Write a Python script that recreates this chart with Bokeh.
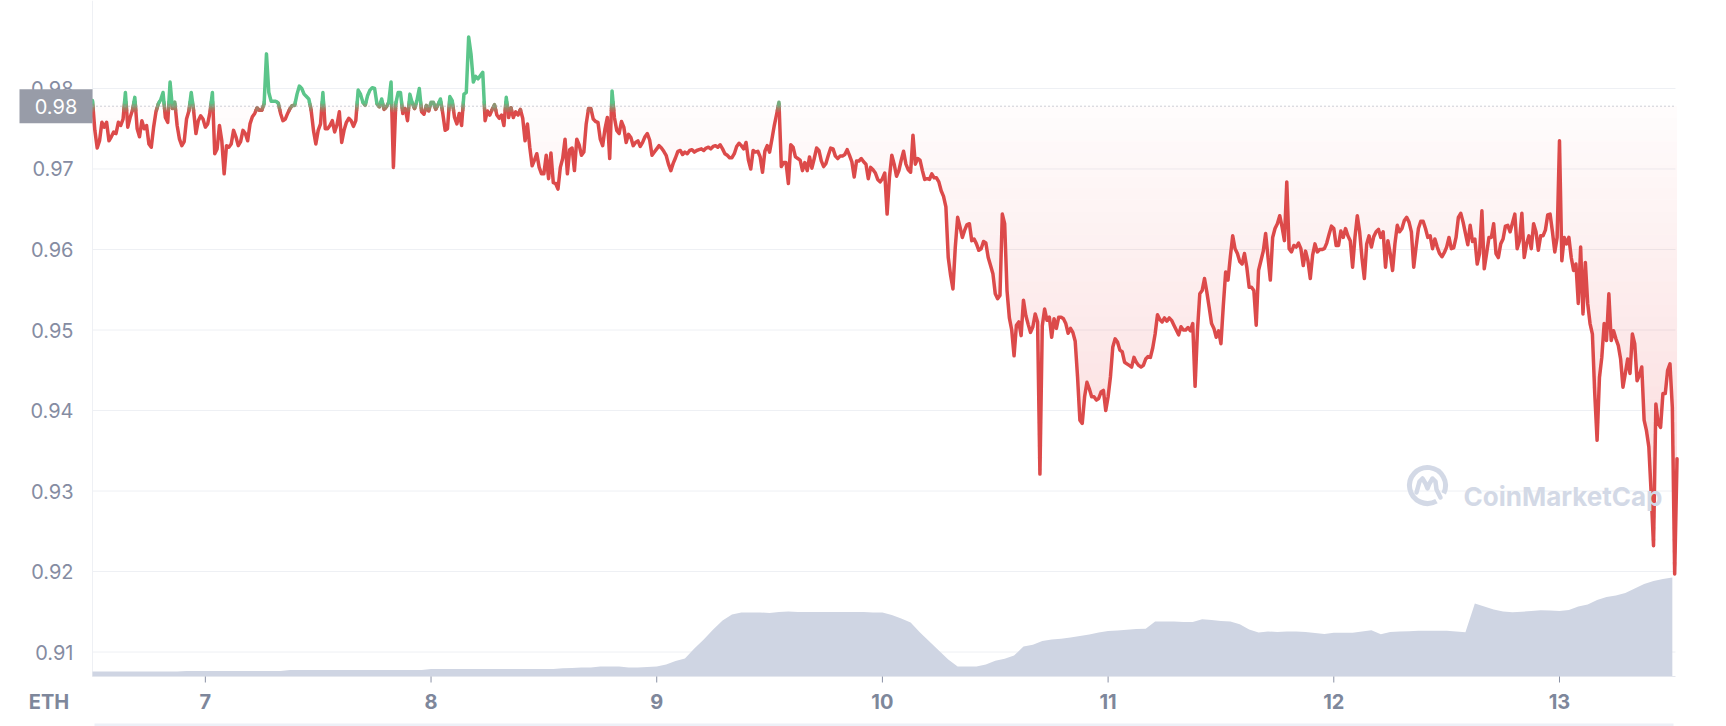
import numpy as np
from bokeh.plotting import figure
from bokeh.models import Range1d
from bokeh.core.properties import value
from bokeh.embed import file_html
from bokeh.resources import INLINE

# ---------------------------------------------------------------- data
START_DAY = 6.5          # day of month at the first sample
END_DAY = 13.514         # right edge of the chart
PRICE_STEP = 1 / 96      # 15-minute samples
VOLUME_STEP = 1 / 24     # hourly samples
REF_PRICE = 0.9778       # price at the start of the period

price = [
    0.9785, 0.9748, 0.9726, 0.9735, 0.9758, 0.9752, 0.9758, 0.9735, 0.9740, 0.9746,
    0.9744, 0.9758, 0.9754, 0.9762, 0.9795, 0.9752, 0.9764, 0.9773, 0.9789, 0.9750,
    0.9740, 0.9760, 0.9750, 0.9754, 0.9731, 0.9727, 0.9752, 0.9771, 0.9781, 0.9786,
    0.9795, 0.9764, 0.9758, 0.9808, 0.9775, 0.9783, 0.9754, 0.9737, 0.9729, 0.9734,
    0.9762, 0.9772, 0.9795, 0.9773, 0.9744, 0.9760, 0.9766, 0.9762, 0.9752, 0.9756,
    0.9771, 0.9795, 0.9719, 0.9725, 0.9754, 0.9735, 0.9694, 0.9729, 0.9727, 0.9731,
    0.9748, 0.9740, 0.9729, 0.9734, 0.9748, 0.9744, 0.9735, 0.9756, 0.9765, 0.9769,
    0.9776, 0.9773, 0.9773, 0.9781, 0.9843, 0.9795, 0.9784, 0.9784, 0.9784, 0.9782,
    0.9769, 0.9760, 0.9762, 0.9769, 0.9775, 0.9779, 0.9779, 0.9793, 0.9803, 0.9800,
    0.9793, 0.9790, 0.9787, 0.9773, 0.9748, 0.9731, 0.9748, 0.9756, 0.9795, 0.9750,
    0.9750, 0.9754, 0.9760, 0.9746, 0.9755, 0.9771, 0.9733, 0.9748, 0.9758, 0.9763,
    0.9760, 0.9753, 0.9760, 0.9798, 0.9793, 0.9783, 0.9779, 0.9791, 0.9798, 0.9801,
    0.9800, 0.9781, 0.9777, 0.9787, 0.9774, 0.9777, 0.9783, 0.9808, 0.9702, 0.9781,
    0.9795, 0.9795, 0.9769, 0.9775, 0.9760, 0.9793, 0.9782, 0.9775, 0.9785, 0.9800,
    0.9771, 0.9768, 0.9779, 0.9772, 0.9783, 0.9783, 0.9774, 0.9780, 0.9787, 0.9769,
    0.9748, 0.9750, 0.9790, 0.9785, 0.9764, 0.9756, 0.9769, 0.9754, 0.9793, 0.9795,
    0.9864, 0.9843, 0.9808, 0.9815, 0.9812, 0.9816, 0.9820, 0.9760, 0.9772, 0.9767,
    0.9774, 0.9780, 0.9767, 0.9763, 0.9767, 0.9754, 0.9789, 0.9764, 0.9776, 0.9764,
    0.9771, 0.9767, 0.9774, 0.9763, 0.9735, 0.9756, 0.9727, 0.9704, 0.9711, 0.9719,
    0.9702, 0.9694, 0.9694, 0.9717, 0.9688, 0.9720, 0.9683, 0.9682, 0.9675, 0.9702,
    0.9713, 0.9737, 0.9694, 0.9724, 0.9726, 0.9698, 0.9737, 0.9730, 0.9717, 0.9721,
    0.9756, 0.9775, 0.9775, 0.9762, 0.9759, 0.9758, 0.9737, 0.9729, 0.9750, 0.9764,
    0.9713, 0.9797, 0.9764, 0.9748, 0.9744, 0.9759, 0.9752, 0.9733, 0.9743, 0.9739,
    0.9729, 0.9733, 0.9735, 0.9728, 0.9733, 0.9740, 0.9744, 0.9736, 0.9717, 0.9721,
    0.9725, 0.9729, 0.9726, 0.9722, 0.9717, 0.9706, 0.9698, 0.9707, 0.9714, 0.9722,
    0.9723, 0.9718, 0.9721, 0.9719, 0.9723, 0.9724, 0.9721, 0.9723, 0.9724, 0.9725,
    0.9723, 0.9726, 0.9727, 0.9725, 0.9728, 0.9729, 0.9727, 0.9730, 0.9725, 0.9719,
    0.9717, 0.9714, 0.9714, 0.9719, 0.9728, 0.9732, 0.9729, 0.9725, 0.9733, 0.9711,
    0.9700, 0.9723, 0.9721, 0.9722, 0.9715, 0.9696, 0.9722, 0.9729, 0.9721, 0.9737,
    0.9754, 0.9768, 0.9783, 0.9703, 0.9708, 0.9708, 0.9682, 0.9730, 0.9727, 0.9715,
    0.9713, 0.9711, 0.9698, 0.9708, 0.9698, 0.9715, 0.9701, 0.9713, 0.9726, 0.9723,
    0.9710, 0.9703, 0.9707, 0.9717, 0.9726, 0.9725, 0.9716, 0.9713, 0.9716, 0.9716,
    0.9718, 0.9724, 0.9717, 0.9709, 0.9690, 0.9710, 0.9710, 0.9713, 0.9709, 0.9706,
    0.9688, 0.9702, 0.9699, 0.9695, 0.9687, 0.9684, 0.9688, 0.9695, 0.9644, 0.9690,
    0.9717, 0.9706, 0.9691, 0.9698, 0.9711, 0.9722, 0.9706, 0.9699, 0.9696, 0.9742,
    0.9706, 0.9713, 0.9711, 0.9698, 0.9687, 0.9688, 0.9687, 0.9694, 0.9689, 0.9689,
    0.9684, 0.9673, 0.9666, 0.9653, 0.9590, 0.9568, 0.9551, 0.9603, 0.9640, 0.9628,
    0.9615, 0.9624, 0.9631, 0.9632, 0.9611, 0.9613, 0.9607, 0.9599, 0.9601, 0.9610,
    0.9608, 0.9590, 0.9580, 0.9570, 0.9545, 0.9539, 0.9543, 0.9644, 0.9632, 0.9549,
    0.9515, 0.9500, 0.9468, 0.9506, 0.9510, 0.9493, 0.9537, 0.9518, 0.9507, 0.9497,
    0.9504, 0.9520, 0.9510, 0.9321, 0.9505, 0.9526, 0.9512, 0.9516, 0.9491, 0.9514,
    0.9502, 0.9516, 0.9516, 0.9514, 0.9508, 0.9496, 0.9502, 0.9497, 0.9486, 0.9442,
    0.9388, 0.9384, 0.9417, 0.9435, 0.9427, 0.9417, 0.9417, 0.9413, 0.9415, 0.9423,
    0.9425, 0.9400, 0.9417, 0.9442, 0.9479, 0.9489, 0.9485, 0.9475, 0.9473, 0.9460,
    0.9458, 0.9456, 0.9454, 0.9466, 0.9460, 0.9456, 0.9454, 0.9456, 0.9464, 0.9467,
    0.9466, 0.9478, 0.9495, 0.9519, 0.9513, 0.9510, 0.9515, 0.9511, 0.9515, 0.9512,
    0.9506, 0.9500, 0.9494, 0.9504, 0.9500, 0.9500, 0.9503, 0.9499, 0.9508, 0.9430,
    0.9499, 0.9545, 0.9549, 0.9564, 0.9547, 0.9528, 0.9508, 0.9502, 0.9491, 0.9499,
    0.9483, 0.9530, 0.9572, 0.9562, 0.9591, 0.9617, 0.9601, 0.9595, 0.9585, 0.9582,
    0.9595, 0.9578, 0.9553, 0.9553, 0.9549, 0.9506, 0.9574, 0.9586, 0.9598, 0.9620,
    0.9591, 0.9562, 0.9615, 0.9626, 0.9632, 0.9642, 0.9628, 0.9611, 0.9684, 0.9601,
    0.9597, 0.9605, 0.9603, 0.9608, 0.9601, 0.9580, 0.9598, 0.9586, 0.9564, 0.9593,
    0.9607, 0.9597, 0.9600, 0.9600, 0.9601, 0.9608, 0.9619, 0.9629, 0.9626, 0.9605,
    0.9605, 0.9623, 0.9615, 0.9626, 0.9617, 0.9611, 0.9578, 0.9615, 0.9642, 0.9622,
    0.9589, 0.9564, 0.9607, 0.9617, 0.9603, 0.9616, 0.9622, 0.9625, 0.9615, 0.9622,
    0.9578, 0.9611, 0.9595, 0.9574, 0.9607, 0.9630, 0.9622, 0.9626, 0.9636, 0.9640,
    0.9634, 0.9622, 0.9578, 0.9603, 0.9626, 0.9635, 0.9635, 0.9626, 0.9615, 0.9617,
    0.9601, 0.9613, 0.9603, 0.9595, 0.9591, 0.9596, 0.9603, 0.9615, 0.9601, 0.9602,
    0.9615, 0.9640, 0.9645, 0.9634, 0.9620, 0.9606, 0.9630, 0.9610, 0.9613, 0.9582,
    0.9595, 0.9648, 0.9576, 0.9595, 0.9615, 0.9615, 0.9632, 0.9595, 0.9590, 0.9607,
    0.9613, 0.9629, 0.9630, 0.9622, 0.9633, 0.9644, 0.9601, 0.9611, 0.9645, 0.9590,
    0.9607, 0.9617, 0.9601, 0.9632, 0.9622, 0.9599, 0.9617, 0.9617, 0.9624, 0.9643,
    0.9644, 0.9622, 0.9597, 0.9615, 0.9735, 0.9586, 0.9615, 0.9607, 0.9615, 0.9590,
    0.9574, 0.9582, 0.9533, 0.9603, 0.9520, 0.9584, 0.9533, 0.9508, 0.9495, 0.9421,
    0.9363, 0.9441, 0.9466, 0.9508, 0.9487, 0.9545, 0.9487, 0.9499, 0.9489, 0.9481,
    0.9464, 0.9429, 0.9446, 0.9464, 0.9446, 0.9495, 0.9483, 0.9437, 0.9444, 0.9454,
    0.9388, 0.9375, 0.9355, 0.9297, 0.9232, 0.9408, 0.9384, 0.9379, 0.9421, 0.9421,
    0.9450, 0.9458, 0.9404, 0.9197, 0.9340,
]

# traded volume, millions USD, hourly
volume_m = [
    2.5, 2.5, 2.5, 2.5, 2.5, 2.5, 2.5, 2.5, 2.5, 2.5,
    2.75, 2.75, 2.75, 2.75, 2.75, 2.75, 2.75, 2.75, 2.75, 2.75,
    2.75, 3.25, 3.25, 3.25, 3.25, 3.25, 3.25, 3.25, 3.25, 3.25,
    3.25, 3.25, 3.25, 3.25, 3.25, 3.25, 3.75, 3.75, 3.75, 3.75,
    3.75, 3.75, 3.75, 3.75, 3.75, 3.75, 3.75, 3.75, 3.75, 3.75,
    4.15, 4.25, 4.5, 4.5, 5.0, 5.0, 5.0, 4.5, 4.5, 4.75,
    5.0, 6.0, 7.75, 9.0, 14.0, 18.5, 23.5, 28.0, 31.0, 32.0,
    32.0, 32.0, 31.75, 32.25, 32.5, 32.25, 32.25, 32.25, 32.25, 32.25,
    32.25, 32.25, 32.25, 32.0, 32.0, 30.75, 29.0, 27.0, 22.0, 17.5,
    13.0, 8.5, 5.0, 5.0, 5.0, 6.0, 7.85, 8.85, 10.5, 15.0,
    15.85, 17.75, 18.5, 18.9, 19.5, 20.25, 21.0, 22.0, 22.75, 23.0,
    23.35, 23.75, 23.85, 27.5, 27.5, 27.5, 27.25, 27.25, 28.65, 28.25,
    27.75, 27.5, 26.15, 23.5, 22.0, 22.5, 22.25, 22.5, 22.5, 22.25,
    21.75, 21.25, 21.85, 21.85, 21.85, 22.5, 23.15, 21.15, 22.25, 22.5,
    22.65, 22.85, 22.85, 22.85, 22.85, 22.5, 22.15, 36.5, 35.0, 33.5,
    32.5, 32.15, 32.35, 32.75, 33.15, 33.0, 32.75, 33.25, 35.0, 36.0,
    38.25, 39.75, 40.5, 41.75, 44.0, 46.25, 47.75, 48.75, 49.5,
]

x_ticks = [7, 8, 9, 10, 11, 12, 13]
y_ticks = [0.91, 0.92, 0.93, 0.94, 0.95, 0.96, 0.97, 0.98]
CURRENCY = "ETH"

# ---------------------------------------------------------------- layout
W, H = 1726, 726
PLOT_L, PLOT_T, PLOT_B = 92, 0, 676       # plotting area edges, px
PX_PER_DAY = 225.69
PX_PER_PRICE = 8050.5
PRICE_TOP = 0.99093
VOL_PX = 0.5                              # millions per px

RED = "#DC4A4A"
GREEN = "#5BC58A"
VOLUME_FILL = "#CFD5E3"
GRID = "#EEF0F4"
LABEL = "#858CA2"
LABEL_BOLD = "#7E879B"
FONT = "Inter"


def dx(px):
    return START_DAY + (px - PLOT_L) / PX_PER_DAY


def dy(py):
    return PRICE_TOP - py / PX_PER_PRICE


PRICE_BOTTOM = dy(PLOT_B)

t = START_DAY + np.arange(len(price)) * PRICE_STEP
p_arr = np.asarray(price)
tv = START_DAY + np.arange(len(volume_m)) * VOLUME_STEP

p = figure(width=W, height=H, x_range=Range1d(dx(0), dx(W)), y_range=Range1d(dy(H), dy(0)),
           output_backend="svg", toolbar_location=None, min_border=0,
           x_axis_type=None, y_axis_type=None, outline_line_color=None)
p.grid.visible = False
p.extra_y_ranges = {"vol": Range1d(-(H - PLOT_B) * VOL_PX, PLOT_B * VOL_PX)}

# horizontal grid
p.segment(x0=START_DAY, x1=END_DAY, y0=y_ticks, y1=y_ticks, line_color=GRID, line_width=1)
# axis lines
p.segment(x0=[START_DAY], x1=[START_DAY], y0=[PRICE_BOTTOM], y1=[PRICE_TOP],
          line_color=GRID, line_width=1)

# volume
p.varea(x=tv, y1=0, y2=volume_m, y_range_name="vol", fill_color=VOLUME_FILL)

p.segment(x0=[START_DAY], x1=[END_DAY], y0=[PRICE_BOTTOM], y1=[PRICE_BOTTOM],
          line_color="#E4E7EE", line_width=1)
# x ticks and labels
p.segment(x0=x_ticks, x1=x_ticks, y0=PRICE_BOTTOM, y1=dy(PLOT_B + 6),
          line_color="#8A91A5", line_width=1)
p.text(x=x_ticks, y=dy(701), text=[str(d) for d in x_ticks], text_align="center",
       text_baseline="middle", text_font=value(FONT), text_font_size="20px",
       text_font_style="bold", text_color=LABEL_BOLD)
p.text(x=[dx(48.5)], y=[dy(701)], text=[CURRENCY], text_align="center",
       text_baseline="middle", text_font=value(FONT), text_font_size="20px",
       text_font_style="bold", text_color=LABEL_BOLD)
# y labels
p.text(x=dx(73), y=y_ticks, text=["%.2f" % v for v in y_ticks], text_align="right",
       text_baseline="middle", text_font=value(FONT), text_font_size="20px",
       text_color=LABEL)

# strip along the bottom edge
p.quad(left=[dx(94)], right=[dx(1673)], bottom=[dy(H)], top=[dy(H - 3)],
       fill_color="#EDF0F7", line_color=None)

# gradient fill between the reference price and the line (below reference)
lo = float(p_arr.min())
n_bands = 40
edges = np.linspace(REF_PRICE, lo, n_bands + 1)
for k in range(n_bands):
    top, bot = edges[k], edges[k + 1]
    y_low = np.clip(p_arr, bot, top)
    alpha = 0.015 + 0.21 * (k + 0.5) / n_bands
    p.varea(x=t, y1=y_low, y2=top, fill_color="#E8464B", fill_alpha=alpha)


# price line, split into colour bands around the reference price
def band_runs(xs, ys, levels):
    runs = {k: [] for k in range(len(levels) + 1)}
    cx, cy, cb = [xs[0]], [ys[0]], None
    for i in range(1, len(xs)):
        x0, y0, x1, y1 = xs[i - 1], ys[i - 1], xs[i], ys[i]
        cuts = sorted([lv for lv in levels if min(y0, y1) < lv < max(y0, y1)],
                      reverse=y1 < y0)
        pts = [(x0, y0)] + [(x0 + (lv - y0) / (y1 - y0) * (x1 - x0), lv) for lv in cuts] + [(x1, y1)]
        for (ax, ay), (bx, by) in zip(pts[:-1], pts[1:]):
            b = int(np.searchsorted(levels, (ay + by) / 2))
            if cb is None:
                cb = b
            if b != cb:
                runs[cb].append((cx, cy))
                cx, cy, cb = [ax], [ay], b
            cx.append(bx)
            cy.append(by)
    runs[cb].append((cx, cy))
    return runs


def mix(c1, c2, f):
    a = [int(c1[i:i + 2], 16) for i in (1, 3, 5)]
    b = [int(c2[i:i + 2], 16) for i in (1, 3, 5)]
    return "#%02x%02x%02x" % tuple(round(a[j] + (b[j] - a[j]) * f) for j in range(3))


levels = [REF_PRICE + d for d in (-0.0005, -0.00025, 0.0, 0.00025, 0.0005)]
runs = band_runs(list(t), price, levels)
n_lv = len(levels)
for b, segs in runs.items():
    if not segs:
        continue
    col = mix(RED, GREEN, b / n_lv)
    p.multi_line(xs=[s[0] for s in segs], ys=[s[1] for s in segs],
                 line_color=col, line_width=3.5, line_join="round", line_cap="round")

# reference price marker
p.segment(x0=[START_DAY], x1=[END_DAY], y0=[REF_PRICE], y1=[REF_PRICE],
          line_color="#9BA1AF", line_width=1, line_dash="1 3")
p.quad(left=[dx(19)], right=[dx(92)], bottom=[REF_PRICE - 17 / PX_PER_PRICE],
       top=[REF_PRICE + 17 / PX_PER_PRICE], fill_color="#989CA8", line_color=None)
p.text(x=[dx(55.5)], y=[REF_PRICE], text=["%.2f" % REF_PRICE], text_align="center",
       text_baseline="middle", text_font=value(FONT), text_font_size="20px",
       text_color="white")

# watermark
WM = "#D3D9E6"
p.text(x=[dx(1463)], y=[dy(496)], text=["CoinMarketCap"], text_align="left",
       text_baseline="alphabetic", text_font=value(FONT), text_font_size="26px",
       text_font_style="bold", text_color=WM)
p.arc(x=[dx(1427)], y=[dy(485)], radius=18, radius_units="screen", start_angle=-0.45,
      end_angle=-1.05 + 2 * np.pi, direction="anticlock", line_color=WM, line_width=5)
wave = [(-11, 7), (-8, -4), (-5, -7), (-2, -2), (0, 3), (2, -2), (5, -7), (8, -4), (9, 4), (13, 12)]
p.line(x=[dx(1427 + a) for a, b in wave], y=[dy(485 + b) for a, b in wave],
       line_color=WM, line_width=4.5, line_join="round", line_cap="round")

open("out.html", "w").write(file_html(p, INLINE))
